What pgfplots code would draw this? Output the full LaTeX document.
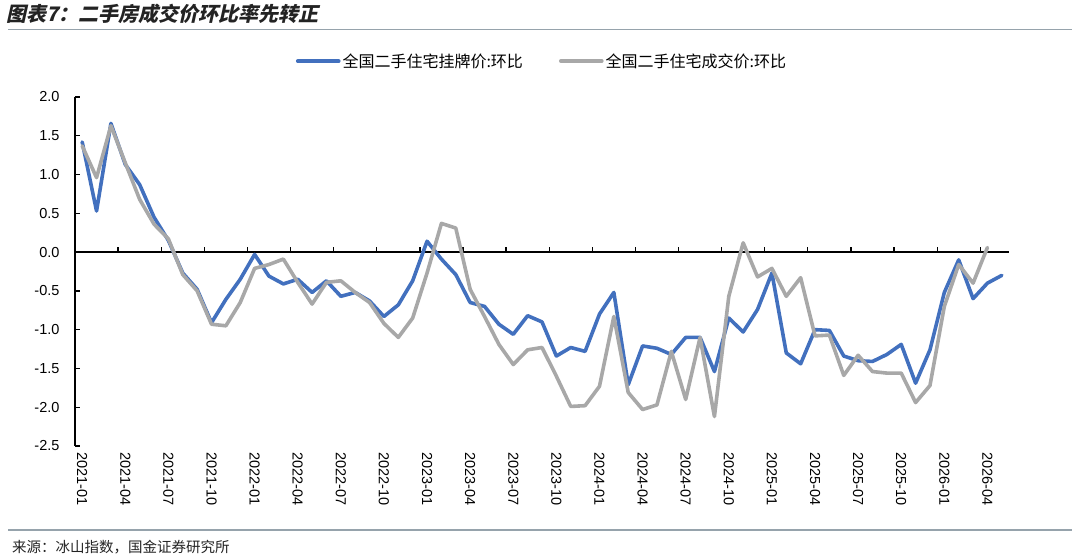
\documentclass[border=0pt]{standalone}
\usepackage{fontspec}
\usepackage{pgfplots}
\usepackage{pgfplotstable}
\pgfplotsset{compat=1.18}
\setmainfont{Liberation Sans}
\newfontfamily\cjk{Noto Sans CJK SC}
\newfontfamily\cjktitle[FakeSlant=0.22]{Noto Sans CJK SC}
\definecolor{lblue}{RGB}{66,112,190}
\definecolor{lgray}{RGB}{168,168,168}
\definecolor{titlec}{RGB}{35,35,35}
\definecolor{ruleline}{RGB}{150,163,172}

\pgfplotstableread{
i v
0 1.42
1 0.53
2 1.66
3 1.13
4 0.87
5 0.45
6 0.15
7 -0.27
8 -0.48
9 -0.91
10 -0.61
11 -0.35
12 -0.03
13 -0.31
14 -0.41
15 -0.35
16 -0.52
17 -0.37
18 -0.57
19 -0.52
20 -0.63
21 -0.83
22 -0.68
23 -0.37
24 0.14
25 -0.09
26 -0.29
27 -0.65
28 -0.70
29 -0.93
30 -1.06
31 -0.82
32 -0.90
33 -1.34
34 -1.23
35 -1.28
36 -0.80
37 -0.52
38 -1.71
39 -1.21
40 -1.24
41 -1.32
42 -1.10
43 -1.10
44 -1.54
45 -0.85
46 -1.03
47 -0.74
48 -0.27
49 -1.30
50 -1.44
51 -1.00
52 -1.01
53 -1.34
54 -1.40
55 -1.41
56 -1.32
57 -1.19
58 -1.69
59 -1.26
60 -0.52
61 -0.10
62 -0.60
63 -0.40
64 -0.30
}\listing

\pgfplotstableread{
i v
0 1.37
1 0.96
2 1.63
3 1.15
4 0.68
5 0.36
6 0.17
7 -0.29
8 -0.50
9 -0.93
10 -0.95
11 -0.65
12 -0.21
13 -0.16
14 -0.09
15 -0.39
16 -0.67
17 -0.39
18 -0.37
19 -0.52
20 -0.65
21 -0.92
22 -1.10
23 -0.85
24 -0.27
25 0.37
26 0.31
27 -0.48
28 -0.83
29 -1.19
30 -1.45
31 -1.26
32 -1.23
33 -1.60
34 -1.99
35 -1.98
36 -1.73
37 -0.83
38 -1.81
39 -2.03
40 -1.97
41 -1.28
42 -1.90
43 -1.10
44 -2.12
45 -0.57
46 0.12
47 -0.32
48 -0.21
49 -0.57
50 -0.33
51 -1.08
52 -1.07
53 -1.59
54 -1.33
55 -1.54
56 -1.56
57 -1.56
58 -1.94
59 -1.72
60 -0.70
61 -0.16
62 -0.40
63 0.06
}\deal

\begin{document}
\begin{tikzpicture}[x=1pt,y=1pt]
\useasboundingbox (0,0) rectangle (1080,556);
\node[anchor=west, inner sep=0pt, text=titlec] at (6,542) {\cjktitle\bfseries\fontsize{20}{22}\selectfont 图表7：二手房成交价环比率先转正};
\draw[ruleline, line width=1.6pt] (8,526.5) -- (1072,526.5);
\draw[ruleline, line width=1.2pt] (8,26) -- (1072,26);
\node[anchor=west, inner sep=0pt, text=titlec] at (12,9) {\cjk\fontsize{14.5}{16}\selectfont 来源：冰山指数，国金证券研究所};
\begin{axis}[
  at={(75pt,110pt)}, anchor=south west,
  scale only axis, width=934pt, height=349pt,
  xmin=-0.5, xmax=64.5, ymin=-2.5, ymax=2,
  axis lines*=left,
  axis line style={-},
  x axis line style={draw=none},
  y axis line style={black, line width=1.5pt},
  tick align=inside,
  major tick length=5pt,
  ytick={-2.5,-2,-1.5,-1,-0.5,0,0.5,1,1.5,2},
  ytick style={black, line width=1.3pt},
  xtick={0,3,...,63},
  xticklabels={2021-01,2021-04,2021-07,2021-10,2022-01,2022-04,2022-07,2022-10,2023-01,2023-04,2023-07,2023-10,2024-01,2024-04,2024-07,2024-10,2025-01,2025-04,2025-07,2025-10,2026-01,2026-04},
  xtick style={draw=none},
  /pgf/number format/assume math mode=true,
  yticklabel={\pgfmathprintnumber[fixed,fixed zerofill,precision=1]{\tick}},
  yticklabel style={font=\fontsize{14.5}{16}\selectfont, xshift=-12pt},
  xticklabel style={font=\fontsize{14.5}{16}\selectfont, yshift=-3pt, rotate=-90, anchor=west},
  legend style={at={(0.5,1.103)}, anchor=center, draw=none, fill=none,
    legend columns=2, font=\cjk\fontsize{16}{18}\selectfont,
    /tikz/every even column/.append style={column sep=34pt}},
  legend image code/.code={\draw[#1] (0pt,0pt) -- (41pt,0pt);},
  every axis plot/.append style={line width=3.6pt, line join=round, line cap=round},
]
\draw[black, line width=1.8pt] (axis cs:-0.5,0) -- (axis cs:64.5,0);
\pgfplotsinvokeforeach{2.5,5.5,...,62.5}{
  \draw[black, line width=1.3pt] (axis cs:#1,0) -- ([yshift=5pt]axis cs:#1,0);
}
\addplot[lblue, mark=none] table[x=i, y=v] {\listing};
\addlegendentry{全国二手住宅挂牌价:环比}
\addplot[lgray, mark=none] table[x=i, y=v] {\deal};
\addlegendentry{全国二手住宅成交价:环比}
\end{axis}
\end{tikzpicture}
\end{document}
